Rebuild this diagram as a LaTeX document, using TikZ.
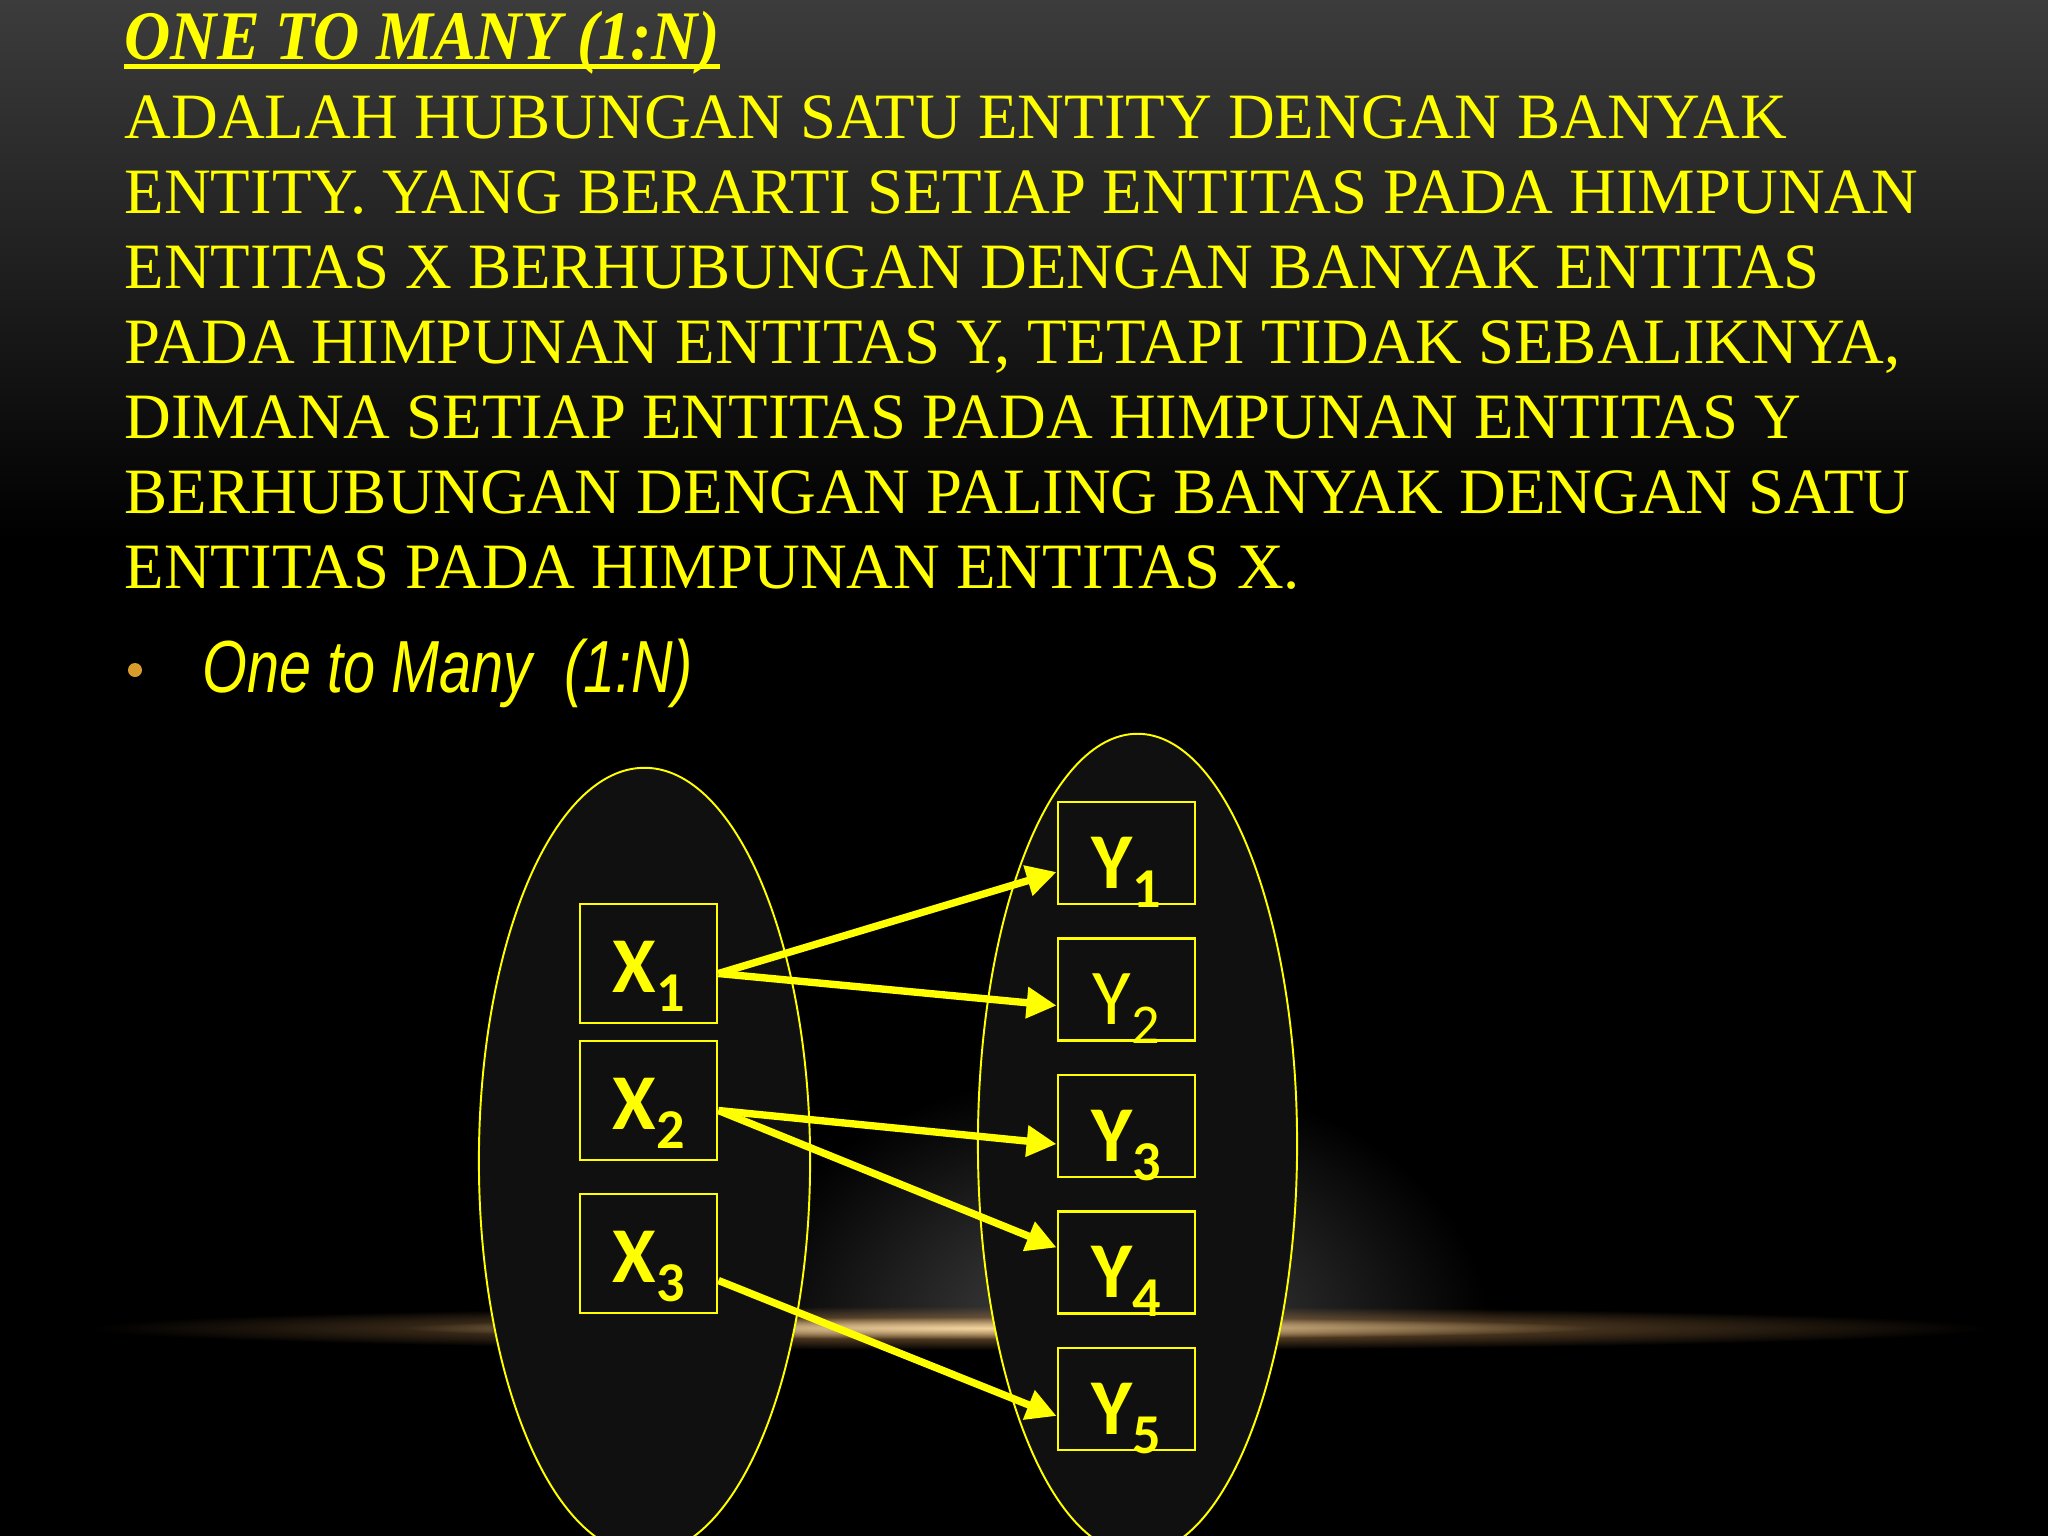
\documentclass[tikz,border=0pt]{standalone}
\usepackage{fontspec}
\usepackage{graphicx}
\setmainfont{Liberation Serif}
\newfontfamily\calib{Carlito}
\newfontfamily\sansf{Liberation Sans}
\usetikzlibrary{arrows.meta,shapes.geometric,fadings}
\definecolor{yel}{HTML}{FFFF00}
\definecolor{setfill}{HTML}{101010}
\definecolor{bulletc}{HTML}{D89B2C}
\definecolor{bgtop}{HTML}{3C3C3C}
\definecolor{bgmid}{HTML}{202020}
\definecolor{spotc}{HTML}{4A4A4A}
\definecolor{glowc}{HTML}{F2D6A2}
\definecolor{glowo}{HTML}{9A7040}
\tikzfading[name=softglow, inner color=transparent!0, outer color=transparent!100]
\newcommand{\boxlabelb}[2]{{\calib\bfseries\fontsize{22.5pt}{22.5pt}\selectfont #1\raisebox{-0.19cm}{\fontsize{16pt}{16pt}\selectfont #2}}}
\newcommand{\boxlabelr}[2]{{\calib\fontsize{22.5pt}{22.5pt}\selectfont #1\raisebox{-0.19cm}{\fontsize{16pt}{16pt}\selectfont #2}}}
\begin{document}
\begin{tikzpicture}[x=0.01cm,y=-0.01cm,
  body/.style={anchor=base west, inner sep=0, text=yel, font=\fontsize{18.4pt}{21pt}\selectfont},
  setell/.style={ellipse, draw=yel, line width=0.55pt, fill=setfill, inner sep=0},
  xbox/.style={draw=yel, line width=0.8pt, fill=setfill, minimum width=1.37cm, minimum height=1.19cm, inner sep=0, text height=0.58cm, text depth=0pt, text=yel},
  ybox/.style={xbox, minimum height=1.02cm, text height=0.70cm},
  rel/.style={draw=yel, line width=2.1pt, -{Triangle[length=8.5pt,width=8.5pt]}}
]
\useasboundingbox (0,0) rectangle (2048,1536);
% background
\fill[black] (0,0) rectangle (2048,1536);
\shade[top color=bgtop, bottom color=bgmid] (0,0) rectangle (2048,260);
\shade[top color=bgmid, bottom color=black] (0,259) rectangle (2048,540);
% spotlight glow
\begin{scope}
  \clip (0,900) rectangle (2048,1328);
  \fill[spotc, path fading=softglow] (1110,1330) ellipse [x radius=3.8cm, y radius=2.6cm];
\end{scope}
% glow line
\fill[glowo, path fading=softglow] (1040,1328) ellipse [x radius=9.5cm, y radius=0.22cm];
\fill[glowc, path fading=softglow] (1000,1328) ellipse [x radius=6.0cm, y radius=0.11cm];

% title and text
\node[anchor=base west, inner sep=0, text=yel] (title) at (124,59)
  {\bfseries\itshape\fontsize{19.8pt}{20pt}\selectfont\scalebox{0.92}[1]{ONE TO MANY (1:N)}};
\draw[yel, line width=1.4pt] ([yshift=-2.2pt]title.base west) -- ([yshift=-2.2pt]title.base east);
\node[body] (t1) at (124,138) {ADALAH HUBUNGAN SATU ENTITY DENGAN BANYAK};
\node[body] (t2) at (124,213) {ENTITY. YANG BERARTI SETIAP ENTITAS PADA HIMPUNAN};
\node[body] (t3) at (124,288) {ENTITAS X BERHUBUNGAN DENGAN BANYAK ENTITAS};
\node[body] (t4) at (124,363) {PADA HIMPUNAN ENTITAS Y, TETAPI TIDAK SEBALIKNYA,};
\node[body] (t5) at (124,438) {DIMANA SETIAP ENTITAS PADA HIMPUNAN ENTITAS Y};
\node[body] (t6) at (124,513) {BERHUBUNGAN DENGAN PALING BANYAK DENGAN SATU};
\node[body] (t7) at (124,588) {ENTITAS PADA HIMPUNAN ENTITAS X.};

% bullet
\fill[bulletc] (135,670) circle [radius=0.07cm];
\node[anchor=base west, inner sep=0, text=yel] (bt) at (202,692)
  {\sansf\itshape\fontsize{21pt}{21pt}\selectfont\scalebox{0.78}[1]{One to Many\ \ (1:N)}};

% sets
\node[setell, minimum width=3.31cm, minimum height=7.86cm] (setX) at (644.5,1161) {};
\node[setell, minimum width=3.19cm, minimum height=8.20cm] (setY) at (1137.5,1144) {};

% boxes
\node[xbox] (X1) at (648.5,963.5) {\boxlabelb{X}{1}};
\node[xbox] (X2) at (648.5,1100.5) {\boxlabelb{X}{2}};
\node[xbox] (X3) at (648.5,1253.5) {\boxlabelb{X}{3}};
\node[ybox] (Y1) at (1126.5,853) {\boxlabelb{Y}{1}};
\node[ybox] (Y2) at (1126.5,989.5) {\boxlabelr{Y}{2}};
\node[ybox] (Y3) at (1126.5,1126) {\boxlabelb{Y}{3}};
\node[ybox] (Y4) at (1126.5,1262.5) {\boxlabelb{Y}{4}};
\node[ybox] (Y5) at (1126.5,1399) {\boxlabelb{Y}{5}};

% relations
\draw[rel] ([yshift=-0.10cm]X1.east) -- ([yshift=-0.19cm]Y1.west);
\draw[rel] ([yshift=-0.10cm]X1.east) -- ([yshift=-0.16cm]Y2.west);
\draw[rel] ([yshift=-0.10cm]X2.east) -- ([yshift=-0.18cm]Y3.west);
\draw[rel] ([yshift=-0.10cm]X2.east) -- ([yshift=0.15cm]Y4.west);
\draw[rel] ([yshift=-0.27cm]X3.east) -- ([yshift=-0.17cm]Y5.west);
\end{tikzpicture}
\end{document}
